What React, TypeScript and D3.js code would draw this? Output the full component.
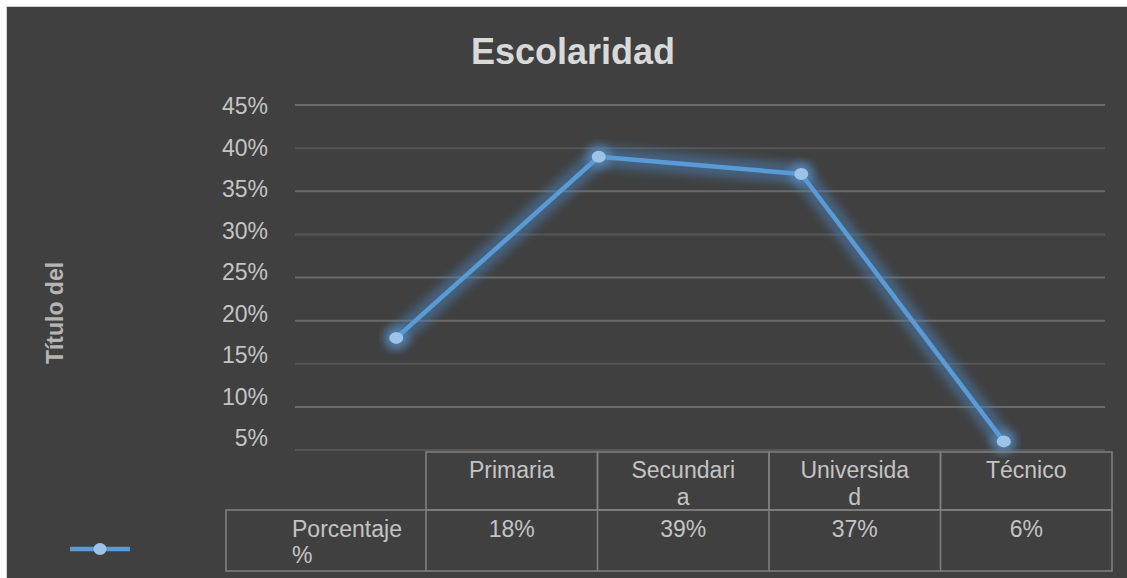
import React, { useEffect, useRef } from "react";
import * as d3 from "d3";

const categories = ["Primaria", "Secundaria", "Universidad", "Técnico"];
// header cells wrap like the original table
const headerLines = [["Primaria"], ["Secundari", "a"], ["Universida", "d"], ["Técnico"]];
const values = [18, 39, 37, 6];
const valueLabels = ["18%", "39%", "37%", "6%"];
const yTicks = [5, 10, 15, 20, 25, 30, 35, 40, 45];
const seriesLabel = ["Porcentaje", "%"];
const title = "Escolaridad";
const yTitle = "Título del";

const faintTicks = [40, 30, 15, 5];
const FONT = "'Liberation Sans', Arial, sans-serif";

export default function App() {
  const svgRef = useRef(null);

  useEffect(() => {
    const W = 1127;
    const H = 578;
    const svg = d3.select(svgRef.current);
    svg.selectAll("*").remove();
    svg.attr("width", W).attr("height", H).attr("viewBox", [0, 0, W, H]);

    // glow filter
    const defs = svg.append("defs");
    const f = defs
      .append("filter")
      .attr("id", "glow")
      .attr("x", "-20%")
      .attr("y", "-20%")
      .attr("width", "140%")
      .attr("height", "140%");
    f.append("feGaussianBlur").attr("stdDeviation", 5);

    // background
    svg.append("rect").attr("width", W).attr("height", H).attr("fill", "#fff");
    svg
      .append("rect")
      .attr("x", 6.5)
      .attr("y", 6.5)
      .attr("width", W)
      .attr("height", H)
      .attr("fill", "#404040")
      .attr("stroke", "#d0d0d0")
      .attr("stroke-width", 1);

    const x = d3.scaleBand().domain(categories).range([295, 1105]);
    const y = d3.scaleLinear().domain([5, 45]).range([450, 105]);
    const yLab = d3.scaleLinear().domain([5, 45]).range([438, 106]);
    const tableX = d3.scaleBand().domain(categories).range([426, 1112]);

    // gridlines
    svg
      .append("g")
      .selectAll("line")
      .data(yTicks)
      .join("line")
      .attr("x1", 295)
      .attr("x2", 1105)
      .attr("y1", (d) => y(d))
      .attr("y2", (d) => y(d))
      .attr("stroke", (d) => (faintTicks.includes(d) ? "#565656" : "#6a6a6a"))
      .attr("stroke-width", 2);

    // y tick labels
    svg
      .append("g")
      .selectAll("text")
      .data(yTicks)
      .join("text")
      .attr("x", 268)
      .attr("y", (d) => yLab(d))
      .attr("dy", "0.35em")
      .attr("text-anchor", "end")
      .attr("font-family", FONT)
      .attr("font-size", 23)
      .attr("fill", "#c4c4c4")
      .text((d) => d + "%");

    // title
    svg
      .append("text")
      .attr("x", 573)
      .attr("y", 64)
      .attr("text-anchor", "middle")
      .attr("font-family", FONT)
      .attr("font-weight", "bold")
      .attr("font-size", 36)
      .attr("fill", "#d9d9d9")
      .text(title);

    // y axis title
    svg
      .append("text")
      .attr("transform", "translate(63,313) rotate(-90)")
      .attr("text-anchor", "middle")
      .attr("font-family", FONT)
      .attr("font-weight", "bold")
      .attr("font-size", 23)
      .attr("fill", "#b5b5b5")
      .text(yTitle);

    // line
    const pts = categories.map((c, i) => [x(c)! + x.bandwidth() / 2, y(values[i])] as [number, number]);
    const line = d3.line();
    svg
      .append("path")
      .attr("d", line(pts))
      .attr("fill", "none")
      .attr("stroke", "#4a86c0")
      .attr("stroke-opacity", 0.5)
      .attr("stroke-width", 20)
      .attr("stroke-linejoin", "round")
      .attr("stroke-linecap", "round")
      .attr("filter", "url(#glow)");
    svg
      .append("g")
      .selectAll("circle")
      .data(pts)
      .join("circle")
      .attr("cx", (d) => d[0])
      .attr("cy", (d) => d[1])
      .attr("r", 12)
      .attr("fill", "#5b9bd5")
      .attr("fill-opacity", 0.55)
      .attr("filter", "url(#glow)");
    svg
      .append("path")
      .attr("d", line(pts))
      .attr("fill", "none")
      .attr("stroke", "#5b9bd5")
      .attr("stroke-width", 4.5)
      .attr("stroke-linejoin", "round");
    svg
      .append("g")
      .selectAll("ellipse")
      .data(pts)
      .join("ellipse")
      .attr("cx", (d) => d[0])
      .attr("cy", (d) => d[1])
      .attr("rx", 7)
      .attr("ry", 6)
      .attr("fill", "#9dc3e6");

    // data table
    const tbl = svg.append("g").attr("fill", "none").attr("stroke", "#808080").attr("stroke-width", 1.5);
    tbl
      .selectAll("rect.h")
      .data(categories)
      .join("rect")
      .attr("class", "h")
      .attr("x", (d) => tableX(d)!)
      .attr("y", 452)
      .attr("width", tableX.bandwidth())
      .attr("height", 58);
    tbl
      .append("rect")
      .attr("x", 226)
      .attr("y", 510)
      .attr("width", 1112 - 226)
      .attr("height", 61);
    tbl
      .selectAll("line.v")
      .data(categories)
      .join("line")
      .attr("class", "v")
      .attr("x1", (d) => tableX(d)!)
      .attr("x2", (d) => tableX(d)!)
      .attr("y1", 510)
      .attr("y2", 571);

    const txt = svg
      .append("g")
      .attr("font-family", FONT)
      .attr("font-size", 23)
      .attr("fill", "#c4c4c4");
    categories.forEach((c, i) => {
      const cx = tableX(c)! + tableX.bandwidth() / 2;
      headerLines[i].forEach((s, j) => {
        txt
          .append("text")
          .attr("x", cx)
          .attr("y", 478 + j * 27)
          .attr("text-anchor", "middle")
          .text(s);
      });
      txt
        .append("text")
        .attr("x", cx)
        .attr("y", 537)
        .attr("text-anchor", "middle")
        .text(valueLabels[i]);
    });
    seriesLabel.forEach((s, j) => {
      txt
        .append("text")
        .attr("x", 292)
        .attr("y", 537 + j * 26)
        .text(s);
    });

    // legend key
    svg
      .append("line")
      .attr("x1", 70)
      .attr("x2", 130)
      .attr("y1", 549)
      .attr("y2", 549)
      .attr("stroke", "#5b9bd5")
      .attr("stroke-width", 4.5);
    svg
      .append("ellipse")
      .attr("cx", 100)
      .attr("cy", 549)
      .attr("rx", 6.5)
      .attr("ry", 6)
      .attr("fill", "#9dc3e6");
  }, []);

  return <svg ref={svgRef} style={{ position: "absolute", left: 0, top: 0, display: "block" }}></svg>;
}
